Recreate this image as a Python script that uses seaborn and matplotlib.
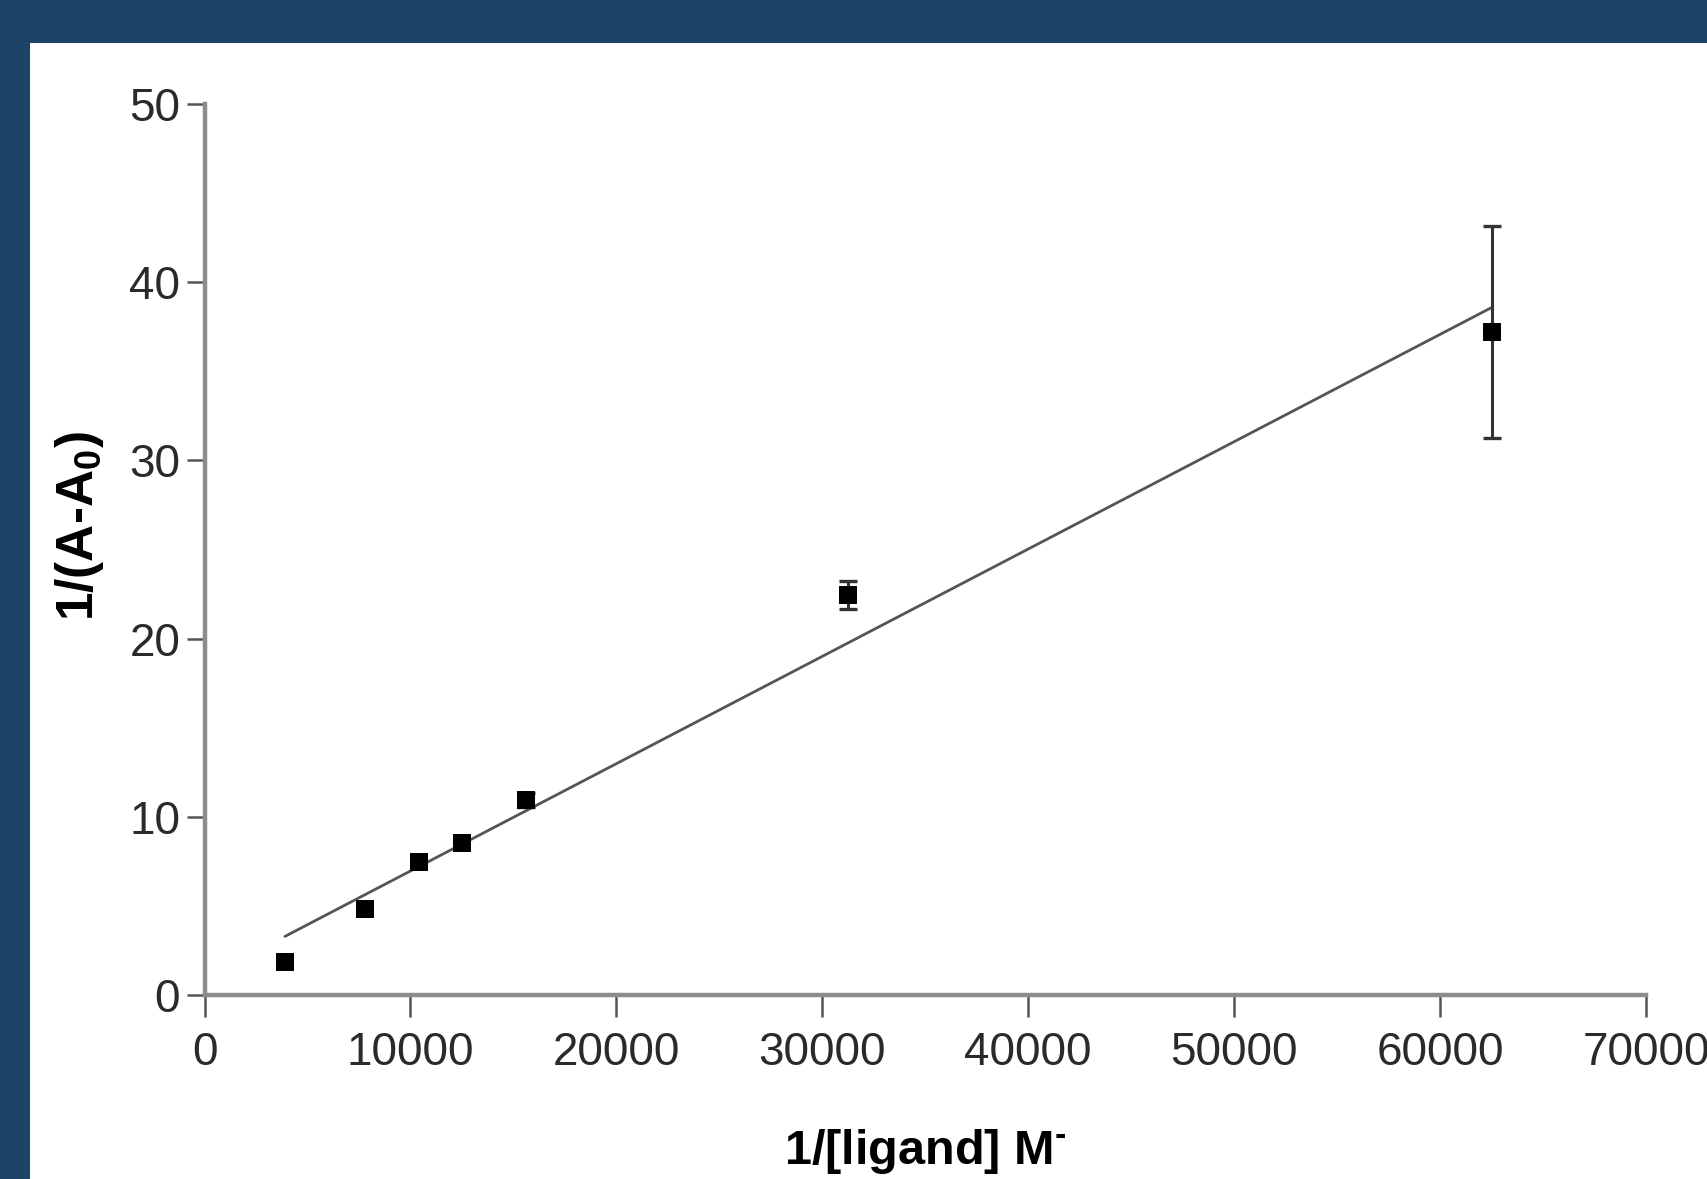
import numpy as np
import pandas as pd
import seaborn as sns
import matplotlib.pyplot as plt
from matplotlib.patches import Rectangle

# 数据
inv_ligand = [3906, 7813, 10417, 12500, 15625, 31250, 62500]
inv_dA = [1.87, 4.81, 7.48, 8.51, 10.94, 22.45, 37.22]
inv_dA_err = [0, 0, 0, 0, 0.4, 0.8, 5.95]

x_ticks = [0, 10000, 20000, 30000, 40000, 50000, 60000, 70000]
y_ticks = [0, 10, 20, 30, 40, 50]

xlabel = '1/[ligand] M$^{\\mathbf{\u2010}}$'
ylabel = r'1/(A-A$_\mathbf{0}$)'

df = pd.DataFrame({'x': inv_ligand, 'y': inv_dA, 'err': inv_dA_err})

sns.set_theme(style='ticks')
plt.rcParams['font.family'] = ['Liberation Sans', 'DejaVu Sans']
plt.rcParams['mathtext.fontset'] = 'custom'
plt.rcParams['mathtext.rm'] = 'Liberation Sans'
plt.rcParams['mathtext.bf'] = 'Liberation Sans:bold'

W, H = 1707, 1179
fig = plt.figure(figsize=(W / 100, H / 100), dpi=100)
fig.patch.set_facecolor('#1d4466')
# 白色面板
fig.add_artist(Rectangle((30 / W, 0), 1, (H - 43) / H, transform=fig.transFigure,
                         facecolor='white', edgecolor='none', zorder=0))

ax = fig.add_axes([204.5 / W, (H - 995) / H, (1646 - 204.5) / W, (995 - 104) / H])
ax.set_facecolor('white')

# 线性拟合
sns.regplot(data=df, x='x', y='y', ax=ax, ci=None, scatter=False, truncate=True,
            line_kws=dict(color='#555555', lw=2.0, zorder=2))

# 误差棒
de = df[df['err'] > 0]
ax.errorbar(de['x'], de['y'], yerr=de['err'], fmt='none', ecolor='#333333',
            elinewidth=2.2, capsize=6.5, capthick=2.4, zorder=3, clip_on=False)

sns.scatterplot(data=df, x='x', y='y', ax=ax, marker='s', s=150, color='black',
                linewidth=0, zorder=4, clip_on=False)

ax.set_xlim(0, 70000)
ax.set_ylim(0, 50)
ax.set_xticks(x_ticks)
ax.set_yticks(y_ticks)
ax.set_xticklabels([str(t) for t in x_ticks])
ax.set_yticklabels([str(t) for t in y_ticks])
ax.set_xlabel('')
ax.set_ylabel('')

for s in ['top', 'right']:
    ax.spines[s].set_visible(False)
for s in ['left', 'bottom']:
    ax.spines[s].set_color('#8c8c8c')
    ax.spines[s].set_linewidth(3.2)

ax.tick_params(axis='x', length=16, width=1.8, color='#555555', pad=10,
               labelsize=33, labelcolor='#2a2a2a')
ax.tick_params(axis='y', length=13, width=1.8, color='#555555', pad=4.5,
               labelsize=33, labelcolor='#2a2a2a')

fig.text(925 / W, 15 / H, xlabel, ha='center', va='baseline',
         fontsize=35, fontweight='bold', color='black')
fig.text(80 / W, (H - 526) / H, ylabel, ha='center', va='center', rotation=90,
         fontsize=37, fontweight='bold', color='black')

fig.savefig('out.png', dpi=100, facecolor=fig.get_facecolor())
